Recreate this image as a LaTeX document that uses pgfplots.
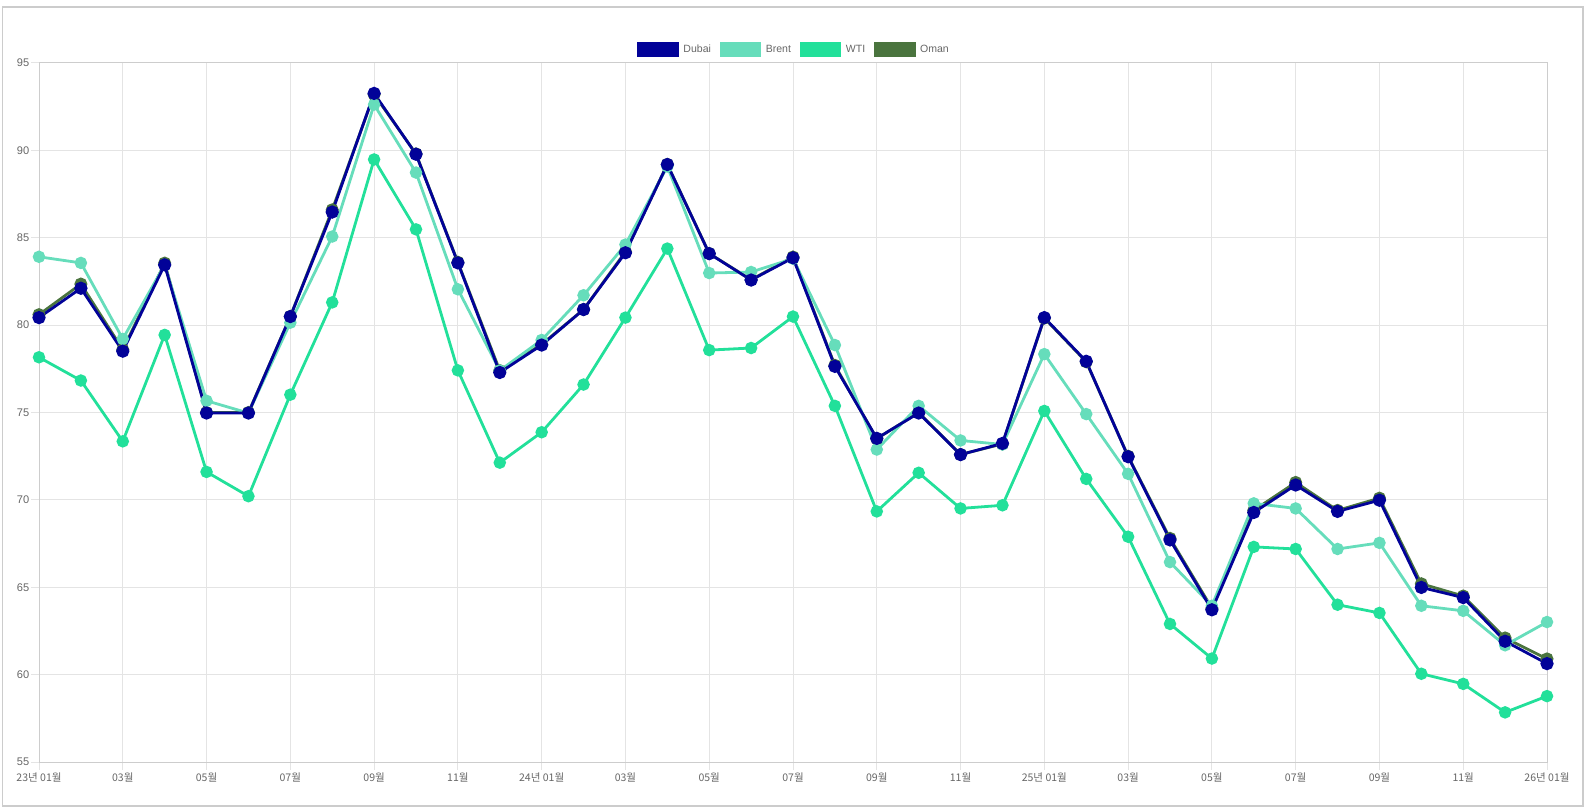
\documentclass[border=0pt]{standalone}
\usepackage{pgfplots}
\pgfplotsset{compat=1.18}
\usepackage{fontspec}
\setmainfont{Liberation Sans}
\newfontfamily\kr{Noto Sans CJK KR}
\definecolor{dubai}{RGB}{2,2,152}
\definecolor{brent}{RGB}{102,221,187}
\definecolor{wti}{RGB}{34,224,154}
\definecolor{oman}{RGB}{74,116,62}
\definecolor{gridc}{RGB}{228,228,228}
\definecolor{axc}{RGB}{205,205,205}
\definecolor{txt}{RGB}{102,102,102}
\begin{document}
\begin{tikzpicture}
\useasboundingbox (0,0) rectangle (1190.25pt,608.25pt);
\draw[color={rgb,255:red,204;green,204;blue,204}, line width=1.1pt] (1.875pt,3.75pt) rectangle (1187.25pt,603pt);
\begin{axis}[
  at={(29.25pt,36.75pt)}, anchor=south west,
  scale only axis, width=1131pt, height=524.25pt,
  xmin=0, xmax=36, ymin=55, ymax=95,
  xtick={0,2,...,36},
  xticklabels={{23년 01월},{03월},{05월},{07월},{09월},{11월},{24년 01월},{03월},{05월},{07월},{09월},{11월},{25년 01월},{03월},{05월},{07월},{09월},{11월},{26년 01월}},
  ytick={55,60,...,95},
  tick pos=left,
  grid=major,
  major grid style={gridc, line width=0.75pt},
  axis line style={axc, line width=0.75pt},
  tick align=outside,
  major tick length=6pt,
  tick style={gridc, line width=0.75pt},
  /pgf/number format/assume math mode=true,
  yticklabel style={font=\fontsize{8.3}{10}\selectfont, text=txt, xshift=2.2pt},
  xticklabel style={font=\kr\fontsize{7.9}{9}\selectfont, text=txt, yshift=1.3pt},
  legend columns=4,
  reverse legend,
  legend style={at={(0.5,1)}, anchor=center, yshift=10.1pt, draw=none, fill=none,
    font=\fontsize{7.9}{9}\selectfont, text=txt, inner sep=0pt,
    nodes={inner sep=0pt},
    /tikz/every odd column/.style={column sep=3.3pt},
    /tikz/every even column/.style={column sep=6.5pt}},
  legend image code/.code={\fill[#1] (0pt,-4.875pt) rectangle (29.25pt,4.875pt);},
  every axis plot/.append style={line width=2.1pt, mark=*},
]
\addplot[color=oman, mark size=3.8pt] coordinates {
(0,80.6)(1,82.35)(2,78.6)(3,83.55)(4,75.0)(5,75.0)(6,80.5)(7,86.6)(8,93.2)(9,89.8)(10,83.6)(11,77.4)(12,78.9)(13,80.9)(14,84.2)(15,89.2)(16,84.1)(17,82.6)(18,83.9)(19,77.7)(20,73.5)(21,75.0)(22,72.6)(23,73.2)(24,80.4)(25,77.9)(26,72.5)(27,67.8)(28,63.8)(29,69.4)(30,71.0)(31,69.4)(32,70.1)(33,65.2)(34,64.5)(35,62.1)(36,60.9)};
\addlegendentry{Oman}
\addplot[color=wti, mark size=3.6pt] coordinates {
(0,78.16)(1,76.83)(2,73.35)(3,79.44)(4,71.6)(5,70.21)(6,76.02)(7,81.3)(8,89.48)(9,85.48)(10,77.41)(11,72.13)(12,73.87)(13,76.6)(14,80.43)(15,84.38)(16,78.57)(17,78.69)(18,80.49)(19,75.38)(20,69.34)(21,71.55)(22,69.51)(23,69.69)(24,75.09)(25,71.2)(26,67.89)(27,62.9)(28,60.92)(29,67.31)(30,67.19)(31,64.0)(32,63.53)(33,60.05)(34,59.47)(35,57.84)(36,58.77)};
\addlegendentry{WTI}
\addplot[color=brent, mark size=3.6pt] coordinates {
(0,83.91)(1,83.56)(2,79.21)(3,83.45)(4,75.67)(5,74.97)(6,80.14)(7,85.07)(8,92.62)(9,88.73)(10,82.05)(11,77.4)(12,79.15)(13,81.71)(14,84.61)(15,89.08)(16,82.98)(17,83.04)(18,83.8)(19,78.86)(20,72.88)(21,75.38)(22,73.4)(23,73.17)(24,78.34)(25,74.91)(26,71.49)(27,66.44)(28,63.94)(29,69.8)(30,69.51)(31,67.19)(32,67.54)(33,63.94)(34,63.65)(35,61.68)(36,63.01)};
\addlegendentry{Brent}
\addplot[color=dubai, mark size=3.9pt] coordinates {
(0,80.43)(1,82.11)(2,78.51)(3,83.45)(4,74.97)(5,74.97)(6,80.49)(7,86.47)(8,93.26)(9,89.78)(10,83.56)(11,77.29)(12,78.86)(13,80.89)(14,84.14)(15,89.19)(16,84.09)(17,82.58)(18,83.85)(19,77.64)(20,73.52)(21,74.97)(22,72.59)(23,73.23)(24,80.43)(25,77.93)(26,72.47)(27,67.71)(28,63.71)(29,69.28)(30,70.85)(31,69.34)(32,69.98)(33,64.99)(34,64.41)(35,61.91)(36,60.63)};
\addlegendentry{Dubai}
\end{axis}
\end{tikzpicture}
\end{document}
